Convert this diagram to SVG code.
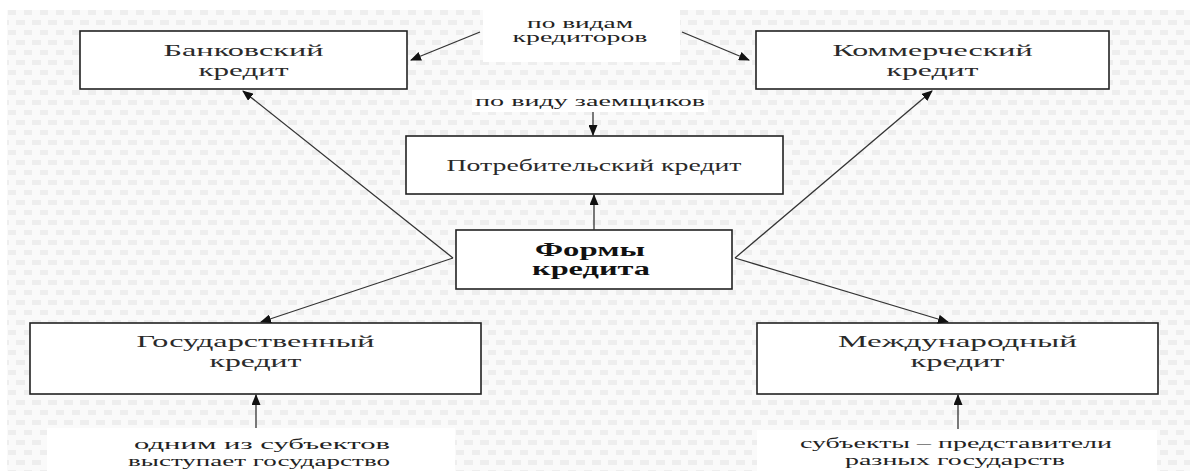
<svg xmlns="http://www.w3.org/2000/svg" width="1190" height="471" viewBox="0 0 1190 471">
  <defs>
    <pattern id="bg" x="0" y="0" width="16" height="20" patternUnits="userSpaceOnUse">
      <rect width="16" height="20" fill="#fafafa"/>
      <rect x="0" y="0" width="9" height="5" fill="#eeeeee"/>
      <rect x="8" y="10" width="9" height="5" fill="#eeeeee"/>
    </pattern>
    <marker id="arr" markerUnits="userSpaceOnUse" markerWidth="11" markerHeight="9" refX="10" refY="4.5" orient="auto">
      <path d="M0,0 L11,4.5 L0,9 Z" fill="#111"/>
    </marker>
    <style>
      .box { fill: #ffffff; stroke: #222; stroke-width: 1.6; }
      .t { font-family: "Liberation Serif", "DejaVu Serif", serif; font-size: 17px; fill: #2a2a2a; text-anchor: middle; }
      .b { font-weight: bold; font-size: 18px; fill: #111; }
      .lbl { font-family: "Liberation Serif", "DejaVu Serif", serif; font-size: 15px; fill: #222; text-anchor: middle; }
      .ca { stroke: #333; stroke-width: 1.3; fill: none; marker-end: url(#arr); }
      .wb { fill: #ffffff; }
    </style>
  </defs>

  <!-- background -->
  <rect width="1190" height="471" fill="#ffffff"/>
  <rect x="7" y="10" width="1183" height="461" fill="url(#bg)"/>
  <!-- white label backgrounds -->
  <rect class="wb" x="483" y="10" width="197" height="52"/>
  <rect class="wb" x="472" y="90" width="236" height="22"/>
  <rect class="wb" x="47" y="428" width="408" height="43"/>
  <rect class="wb" x="757" y="430" width="400" height="41"/>

  <g id="bank">
    <rect class="box" x="80" y="31" width="327" height="58"/>
    <text class="t" x="243.5" y="56" textLength="160" lengthAdjust="spacingAndGlyphs">Банковский</text>
    <text class="t" x="243.5" y="76" textLength="90" lengthAdjust="spacingAndGlyphs">кредит</text>
  </g>

  <g id="commercial">
    <rect class="box" x="756" y="31" width="353" height="58"/>
    <text class="t" x="932.5" y="56" textLength="200" lengthAdjust="spacingAndGlyphs">Коммерческий</text>
    <text class="t" x="932.5" y="76" textLength="92" lengthAdjust="spacingAndGlyphs">кредит</text>
  </g>

  <g id="consumer">
    <rect class="box" x="406" y="136" width="377" height="58"/>
    <text class="t" x="594" y="171" textLength="295" lengthAdjust="spacingAndGlyphs">Потребительский кредит</text>
  </g>

  <g id="forms">
    <rect class="box" x="456" y="230" width="276" height="59"/>
    <text class="t b" x="590" y="256" textLength="110" lengthAdjust="spacingAndGlyphs">Формы</text>
    <text class="t b" x="591" y="275" textLength="118" lengthAdjust="spacingAndGlyphs">кредита</text>
  </g>

  <g id="state">
    <rect class="box" x="30" y="323" width="451" height="71"/>
    <text class="t" x="255.5" y="347" textLength="238" lengthAdjust="spacingAndGlyphs">Государственный</text>
    <text class="t" x="255.5" y="367" textLength="92" lengthAdjust="spacingAndGlyphs">кредит</text>
  </g>

  <g id="international">
    <rect class="box" x="757" y="323" width="401" height="71"/>
    <text class="t" x="957.5" y="347" textLength="239" lengthAdjust="spacingAndGlyphs">Международный</text>
    <text class="t" x="957.5" y="367" textLength="94" lengthAdjust="spacingAndGlyphs">кредит</text>
  </g>

  <g id="label-creditors">
    <text class="lbl" x="580" y="28" textLength="106" lengthAdjust="spacingAndGlyphs">по видам</text>
    <text class="lbl" x="580" y="42" textLength="135" lengthAdjust="spacingAndGlyphs">кредиторов</text>
  </g>

  <g id="label-borrowers">
    <text class="lbl" x="590" y="106" textLength="230" lengthAdjust="spacingAndGlyphs">по виду заемщиков</text>
  </g>

  <g id="label-state">
    <text class="lbl" x="262" y="449" textLength="256" lengthAdjust="spacingAndGlyphs">одним из субъектов</text>
    <text class="lbl" x="259" y="466" textLength="262" lengthAdjust="spacingAndGlyphs">выступает государство</text>
  </g>

  <g id="label-international">
    <text class="lbl" x="956" y="448" textLength="312" lengthAdjust="spacingAndGlyphs">субъекты – представители</text>
    <text class="lbl" x="955" y="465" textLength="220" lengthAdjust="spacingAndGlyphs">разных государств</text>
  </g>

  <g id="connectors">
    <line class="ca" x1="480" y1="32" x2="411" y2="60"/>
    <line class="ca" x1="682" y1="32" x2="749" y2="60"/>
    <line class="ca" x1="593" y1="112" x2="593" y2="135"/>
    <line class="ca" x1="594" y1="230" x2="594" y2="195"/>
    <line class="ca" x1="453" y1="258" x2="243" y2="91"/>
    <line class="ca" x1="453" y1="258" x2="261" y2="322"/>
    <line class="ca" x1="735" y1="258" x2="932" y2="91"/>
    <line class="ca" x1="735" y1="258" x2="948" y2="322"/>
    <line class="ca" x1="256" y1="428" x2="256" y2="395"/>
    <line class="ca" x1="958" y1="429" x2="958" y2="395"/>
  </g>
</svg>
